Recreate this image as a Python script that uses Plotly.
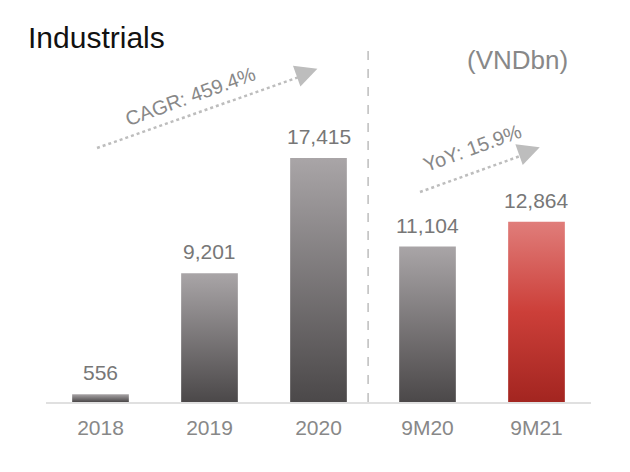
import plotly.graph_objects as go

# ---- data ----
categories = ["2018", "2019", "2020", "9M20", "9M21"]
values = [556, 9201, 17415, 11104, 12864]
value_labels = ["556", "9,201", "17,415", "11,104", "12,864"]
title_text = "Industrials"
unit_text = "(VNDbn)"
cagr_text = "CAGR: 459.4%"
yoy_text = "YoY: 15.9%"

# ---- styles ----
gray_scale = [[0, "#4b4849"], [1, "#a9a5a7"]]
red_scale = [[0, "#a32520"], [0.5, "#cc3f39"], [1, "#e07d7a"]]
bar_width = 0.52
label_color = "#777777"
tick_color = "#888888"
font_family = "Liberation Sans, Arial, sans-serif"

fig = go.Figure()
xs = list(range(len(categories)))
for i, (x, v) in enumerate(zip(xs, values)):
    scale = red_scale if i == len(values) - 1 else gray_scale
    fig.add_trace(go.Scatter(
        x=[x - bar_width / 2, x - bar_width / 2, x + bar_width / 2, x + bar_width / 2, x - bar_width / 2],
        y=[0, v, v, 0, 0],
        mode="lines",
        line=dict(width=0),
        fill="toself",
        fillgradient=dict(type="vertical", colorscale=scale),
        hoverinfo="skip",
        showlegend=False,
    ))

for x, v, t in zip(xs, values, value_labels):
    fig.add_annotation(x=x, y=v, text=t, showarrow=False, yanchor="bottom", yshift=8,
                       font=dict(size=21, color=label_color, family=font_family))

ymax = 25850
# divider
fig.add_shape(type="line", x0=2.455, x1=2.455, y0=0, y1=25350, xref="x", yref="y",
              line=dict(color="#bdbdbd", width=1.5, dash="dash"), layer="below")

# trend arrows (dotted line + head)
def trend(x0, y0, x1, y1):
    fig.add_shape(type="line", x0=x0, y0=y0, x1=x1, y1=y1, xref="x", yref="y",
                  line=dict(color="#bdbdbd", width=2.5, dash="dot"))
    fig.add_annotation(x=x1 + 0.06, y=y1 + 300, ax=-14, ay=5, xref="x", yref="y", text="",
                       showarrow=True, arrowhead=2, arrowsize=2.2, arrowwidth=2,
                       arrowcolor="#bdbdbd")

trend(-0.032, 18136, 1.93, 23500)
trend(2.931, 14994, 3.97, 17900)

fig.add_annotation(x=0.83, y=21848, text=cagr_text, showarrow=False, textangle=-20,
                   font=dict(size=20, color=tick_color, family=font_family))
fig.add_annotation(x=3.41, y=18136, text=yoy_text, showarrow=False, textangle=-20,
                   font=dict(size=20, color=tick_color, family=font_family))

fig.add_annotation(x=26, y=472 - 38, xref="paper", yref="paper", text=title_text,
                   showarrow=False, xanchor="left", yanchor="middle",
                   font=dict(size=30, color="#111111", family=font_family))
fig.add_annotation(x=517, y=472 - 60, xref="paper", yref="paper", text=unit_text,
                   showarrow=False, xanchor="center", yanchor="middle",
                   font=dict(size=26, color=tick_color, family=font_family))

# convert pixel-based paper annotations
L, R, T, B = 46, 39, 40, 70
W, H = 630, 472
pw, ph = W - L - R, H - T - B
for a in fig.layout.annotations:
    if a.xref == "paper":
        a.x = (a.x - L) / pw
        a.y = (a.y - B) / ph

fig.update_layout(
    width=W, height=H,
    margin=dict(l=L, r=R, t=T, b=B),
    plot_bgcolor="white", paper_bgcolor="white",
    showlegend=False,
    xaxis=dict(range=[-0.5, 4.5], tickvals=xs, ticktext=categories, showgrid=False,
               zeroline=False, showline=True, linecolor="#e0e0e0", linewidth=2,
               ticks="", ticklabelstandoff=6,
               tickfont=dict(size=21, color=tick_color, family=font_family)),
    yaxis=dict(range=[0, ymax], visible=False, showgrid=False, zeroline=False),
)
fig.write_html("out.html")
